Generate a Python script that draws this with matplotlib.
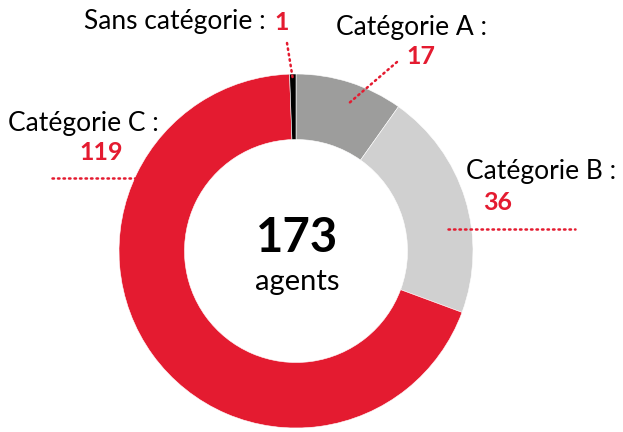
import matplotlib
matplotlib.use("Agg")
import matplotlib.pyplot as plt

categories = ["Catégorie A", "Catégorie B", "Catégorie C", "Sans catégorie"]
values = [17, 36, 119, 1]
colors = ["#9D9D9C", "#D0D0D0", "#E41B30", "#000000"]
total_label = "agents"

RED = "#E41B30"
plt.rcParams['font.family'] = ['Lato', 'DejaVu Sans']

fig = plt.figure(figsize=(6.23, 4.32), dpi=100)
ax = fig.add_axes([0, 0, 1, 1])

cx, cy, R = 296, 432 - 251, 177
ax.pie(values, colors=colors, startangle=90, counterclock=False,
       center=(cx, cy), radius=R, frame=True,
       wedgeprops=dict(width=R * 0.37, edgecolor='white', linewidth=0.4))
ax.set_xlim(0, 623)
ax.set_ylim(0, 432)
ax.set_aspect('equal')
ax.axis('off')

total = sum(values)
ax.text(cx + 1, 432 - 238, f"{total}", ha='center', va='center', fontsize=34,
        fontweight='bold', color='black')
ax.text(cx + 1, 432 - 282, total_label, ha='center', va='center', fontsize=21, color='black')

fs = 19
fsn = 18
def label(x, y, name, xv, yv, val):
    ax.text(x, 432 - y, name + " :", ha='left', va='center', fontsize=fs, color='black')
    ax.text(xv, 432 - yv, str(val), ha='left', va='center', fontsize=fsn,
            fontweight='bold', color=RED)

def leader(x0, y0, x1, y1):
    ax.plot([x0, x1], [432 - y0, 432 - y1], color=RED, lw=1.8, ls=(0, (0.6, 1.6)),
            dash_capstyle='round')

# Sans catégorie
ax.text(266, 432 - 22, categories[3] + " :", ha='right', va='center', fontsize=fs, color='black')
ax.text(274, 432 - 22, str(values[3]), ha='left', va='center', fontsize=fsn,
        fontweight='bold', color=RED)
leader(287, 43, 293, 80)

# Catégorie A
label(336, 28, categories[0], 406, 57, values[0])
leader(397, 62, 348, 104)

# Catégorie B
label(466, 172, categories[1], 483, 202, values[1])
leader(448, 229, 575, 229)

# Catégorie C
label(8, 124, categories[2], 79, 153, values[2])
leader(52, 178, 135, 178)

fig.savefig("out.png", dpi=100)
